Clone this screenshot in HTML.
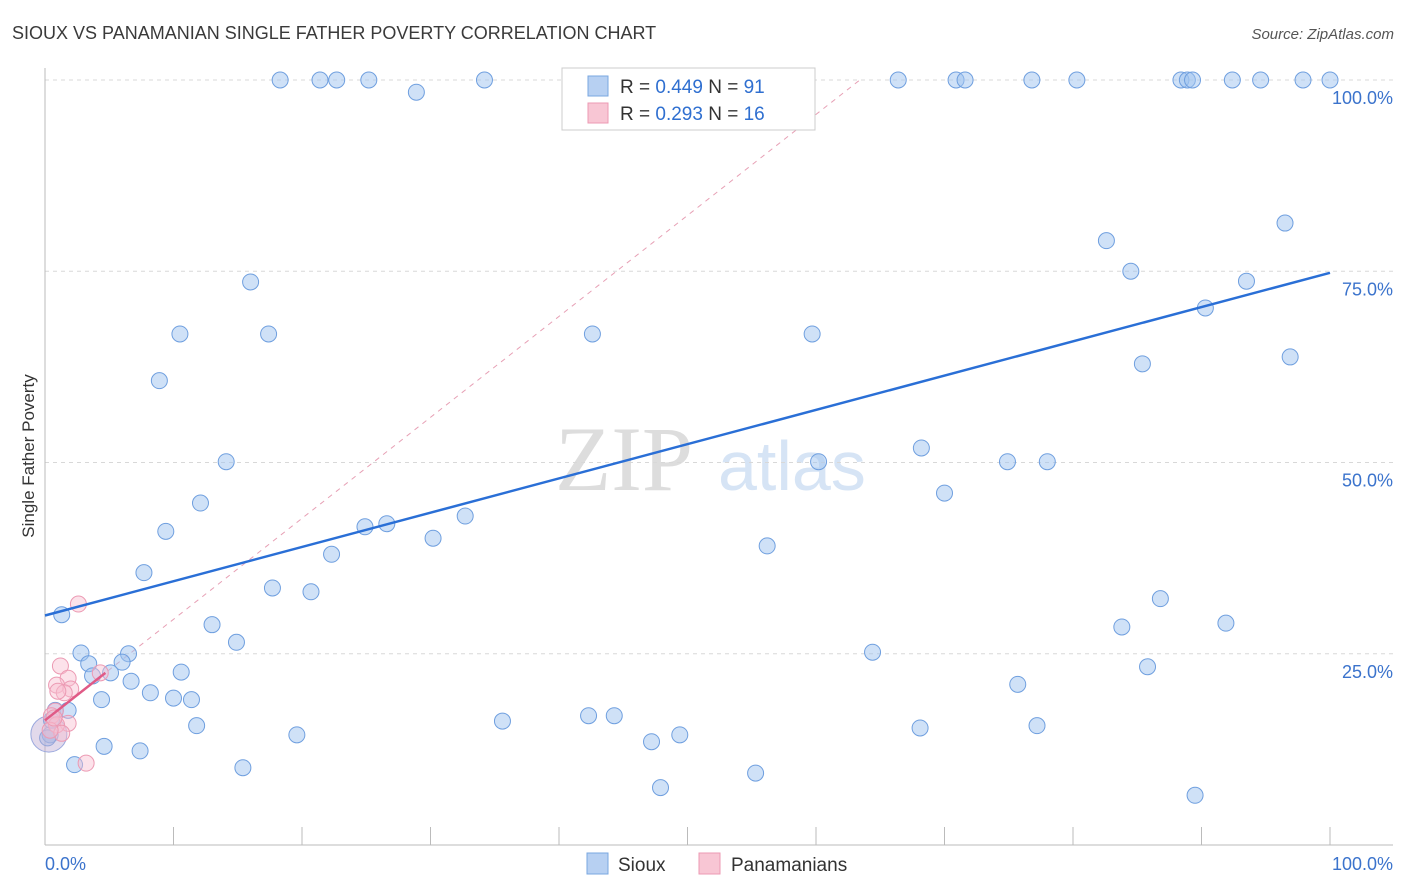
<!DOCTYPE html>
<html><head><meta charset="utf-8"><style>
body{margin:0;background:#fff;font-family:"Liberation Sans",sans-serif}
</style></head><body>
<svg id="chart" width="1406" height="892" xmlns="http://www.w3.org/2000/svg" style="display:block">
<text x="12" y="39" font-size="18" fill="#3a3a3a">SIOUX VS PANAMANIAN SINGLE FATHER POVERTY CORRELATION CHART</text>
<text x="1394" y="39" font-size="15" fill="#555" font-style="italic" text-anchor="end">Source: ZipAtlas.com</text>
<text transform="translate(34,456) rotate(-90)" font-size="17" fill="#333" text-anchor="middle">Single Father Poverty</text>
<text x="555" y="490" font-size="92" fill="#ddd" font-family="Liberation Serif,serif">ZIP</text>
<text x="718" y="490" font-size="70" fill="#d6e4f5">atlas</text>
<g id="grid"></g><g id="marks"></g>
<g>
<rect x="562" y="68" width="253" height="62" fill="#fff" stroke="#ccc"/>
<rect x="588" y="76" width="20" height="20" fill="#b7d0f2" stroke="#7aa7e0"/>
<rect x="588" y="103" width="20" height="20" fill="#f8c6d4" stroke="#ec9ab3"/>
<text x="620" y="93" font-size="19" fill="#333">R = <tspan fill="#2f6fd0">0.449</tspan>   N = <tspan fill="#2f6fd0">91</tspan></text>
<text x="620" y="120" font-size="19" fill="#333">R =  <tspan fill="#2f6fd0">0.293</tspan>   N = <tspan fill="#2f6fd0">16</tspan></text>
</g>
<g>
<rect x="587" y="853" width="21" height="21" fill="#b7d0f2" stroke="#7aa7e0"/>
<text x="618" y="871" font-size="19" fill="#333">Sioux</text>
<rect x="699" y="853" width="21" height="21" fill="#f8c6d4" stroke="#ec9ab3"/>
<text x="731" y="871" font-size="19" fill="#333">Panamanians</text>
</g>
</svg>
<script>
const yTicks=[25,50,75,100];
const yTickLabels=["25.0%","50.0%","75.0%","100.0%"];
const xTickCount=[0,10,20,30,40,50,60,70,80,90,100];
const siouxX=[18.3,21.4,22.7,25.2,28.9,34.2,66.4,70.9,71.6,76.8,80.3,88.4,88.9,89.3,92.4,94.6,97.9,100,46.5,52.0,82.6,96.5,84.5,93.5,90.3,16.0,10.5,17.4,42.6,59.7,85.4,96.9,8.9,14.1,68.2,60.2,74.9,78.0,70.0,12.1,9.4,24.9,26.6,32.7,30.2,22.3,56.2,7.7,17.7,20.7,86.8,1.3,13.0,91.9,83.8,14.9,2.8,6.5,64.4,3.4,6.0,10.6,85.8,5.1,3.7,6.7,8.2,10.0,11.4,4.4,75.7,1.8,0.8,11.8,35.6,42.3,44.3,68.1,77.2,19.6,49.4,47.2,4.6,7.4,2.3,15.4,55.3,47.9,89.5,0.4,0.5,0.2];
const siouxY=[100,100,100,100,98.4,100,100,100,100,100,100,100,100,100,100,100,100,100,100,100,79.0,81.3,75.0,73.7,70.2,73.6,66.8,66.8,66.8,66.8,62.9,63.8,60.7,50.1,51.9,50.1,50.1,50.1,46.0,44.7,41.0,41.6,42.0,43.0,40.1,38.0,39.1,35.6,33.6,33.1,32.2,30.1,28.8,29.0,28.5,26.5,25.1,25.0,25.2,23.7,23.9,22.6,23.3,22.5,22.1,21.4,19.9,19.2,19.0,19.0,21.0,17.6,17.6,15.6,16.2,16.9,16.9,15.3,15.6,14.4,14.4,13.5,12.9,12.3,10.5,10.1,9.4,7.5,6.5,14.4,16.3,14.0];
const panX=[2.6,1.2,1.8,0.9,2.0,1.5,1.0,4.3,0.8,0.5,1.8,0.9,1.3,3.2,0.4,0.7];
const panY=[31.5,23.4,21.8,20.9,20.4,19.9,20.1,22.5,17.5,16.9,15.9,15.7,14.6,10.7,15.0,16.6];
const siouxTrend=[30.0,74.8];
const panTrend=[16.3,1.32];
const X=v=>45+v*12.85, Y=v=>845-v*7.65;
const NS="http://www.w3.org/2000/svg";
const grid=document.getElementById('grid'), marks=document.getElementById('marks');
function mk(tag,attrs,parent){const e=document.createElementNS(NS,tag);for(const k in attrs)e.setAttribute(k,attrs[k]);parent.appendChild(e);return e;}
yTicks.forEach((t,i)=>{
 const l=mk('line',{x1:45,x2:1393,y1:Y(t),y2:Y(t),stroke:'#d8d8d8','stroke-dasharray':'4,4'},grid);
 
 
 const tx=mk('text',{x:1393,y:Y(t)+24,'font-size':18,fill:'#3b73cc','text-anchor':'end'},grid);
 tx.textContent=yTickLabels[i];
 
 
});
const ax=mk('line',{x1:45,x2:1393,y1:845,y2:845,stroke:'#bbb'},grid);


const ay=mk('line',{x1:45,x2:45,y1:68,y2:845,stroke:'#bbb'},grid);


xTickCount.forEach(t=>{
 const l=mk('line',{x1:X(t),x2:X(t),y1:827,y2:845,stroke:'#bbb'},grid);
 
 
});
const x0=mk('text',{x:45,y:870,'font-size':18,fill:'#3b73cc'},grid);x0.textContent='0.0%';


const x1=mk('text',{x:1393,y:870,'font-size':18,fill:'#3b73cc','text-anchor':'end'},grid);x1.textContent='100.0%';


const pEnd=(100-panTrend[0])/panTrend[1];
const pd=mk('line',{x1:X(0),y1:Y(panTrend[0]),x2:X(pEnd),y2:Y(100),stroke:'#e7a0b5','stroke-dasharray':'5,5'},marks);


siouxX.forEach((x,i)=>{
 const c=mk('circle',{cx:X(x),cy:Y(siouxY[i]),r:8,fill:'rgba(160,196,240,0.5)',stroke:'#6f9fdf','stroke-width':1},marks);
 
 
});
const big=mk('circle',{cx:X(0.3),cy:Y(14.5),r:18,fill:'rgba(190,170,210,0.45)',stroke:'#9aa8dd'},marks);


panX.forEach((x,i)=>{
 const c=mk('circle',{cx:X(x),cy:Y(panY[i]),r:8,fill:'rgba(248,190,208,0.45)',stroke:'#ec9ab3','stroke-width':1},marks);
 
 
});
const st=mk('line',{x1:X(0),y1:Y(siouxTrend[0]),x2:X(100),y2:Y(siouxTrend[1]),stroke:'#2a6fd6','stroke-width':2.5},marks);


const pt=mk('line',{x1:X(0),y1:Y(panTrend[0]),x2:X(4.7),y2:Y(panTrend[0]+panTrend[1]*4.7),stroke:'#e05a86','stroke-width':2.5},marks);


</script>
</body></html>
